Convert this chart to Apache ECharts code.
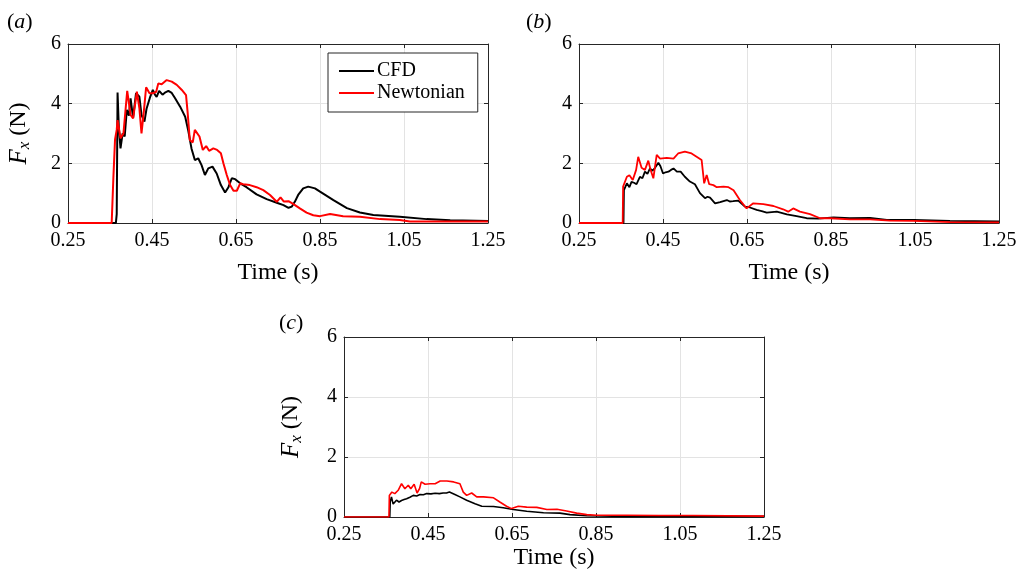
<!DOCTYPE html>
<html>
<head>
<meta charset="utf-8">
<script src="https://cdn.jsdelivr.net/npm/echarts@6/dist/echarts.min.js"></script>
<style>html,body{margin:0;padding:0;background:#fff;}#chart{width:1027px;height:573px;}</style>
</head>
<body>
<div id="chart"></div>
<script>
// ---- data (time in s, Fx in N) ----
const xTicks = [0.25, 0.45, 0.65, 0.85, 1.05, 1.25];
const yTicks = [0, 2, 4, 6];
const seriesNames = ['CFD', 'Newtonian'];
const panelLetters = ['a', 'b', 'c'];

const cfdA = [[0.25,0],[0.364,0],[0.366,0.3],[0.368,4.37],[0.371,3.2],[0.375,2.5],[0.38,3.0],[0.385,2.9],[0.390,3.79],[0.395,3.6],[0.399,4.18],[0.405,3.52],[0.412,4.35],[0.42,4.23],[0.425,3.62],[0.432,3.40],[0.437,3.83],[0.445,4.2],[0.452,4.46],[0.457,4.3],[0.461,4.23],[0.467,4.43],[0.475,4.3],[0.482,4.38],[0.489,4.43],[0.497,4.36],[0.505,4.18],[0.517,3.9],[0.529,3.56],[0.536,3.12],[0.544,2.5],[0.552,2.11],[0.56,2.17],[0.568,1.94],[0.576,1.61],[0.584,1.83],[0.594,1.89],[0.604,1.66],[0.614,1.27],[0.624,1.02],[0.632,1.2],[0.64,1.5],[0.648,1.47],[0.66,1.33],[0.675,1.2],[0.699,0.96],[0.723,0.8],[0.747,0.68],[0.763,0.6],[0.775,0.51],[0.783,0.55],[0.79,0.71],[0.798,0.94],[0.81,1.16],[0.822,1.22],[0.838,1.16],[0.85,1.05],[0.882,0.77],[0.914,0.5],[0.945,0.35],[0.977,0.27],[1.04,0.21],[1.104,0.13],[1.16,0.09],[1.25,0.07]];
const newtA = [[0.25,0],[0.354,0],[0.358,1.5],[0.362,2.8],[0.366,3.12],[0.368,3.45],[0.375,2.84],[0.382,3.0],[0.391,4.43],[0.399,3.62],[0.405,3.51],[0.414,4.4],[0.42,3.84],[0.425,3.0],[0.431,3.8],[0.436,4.55],[0.444,4.35],[0.453,4.35],[0.46,4.4],[0.465,4.68],[0.473,4.65],[0.485,4.79],[0.497,4.74],[0.509,4.63],[0.521,4.46],[0.531,4.29],[0.535,3.68],[0.54,2.78],[0.547,2.7],[0.552,3.12],[0.556,3.17],[0.563,2.9],[0.571,2.45],[0.579,2.58],[0.586,2.42],[0.596,2.5],[0.605,2.45],[0.614,2.34],[0.62,2.0],[0.628,1.61],[0.636,1.27],[0.644,1.08],[0.652,1.08],[0.66,1.33],[0.667,1.3],[0.683,1.27],[0.699,1.2],[0.715,1.1],[0.731,0.94],[0.747,0.71],[0.756,0.86],[0.764,0.72],[0.775,0.73],[0.786,0.64],[0.802,0.49],[0.818,0.35],[0.834,0.26],[0.85,0.23],[0.874,0.3],[0.905,0.23],[0.945,0.21],[0.993,0.13],[1.04,0.1],[1.064,0.05],[1.136,0.05],[1.25,0.05]];

const cfdB = [[0.25,0],[0.356,0],[0.357,1.1],[0.364,1.33],[0.37,1.2],[0.375,1.38],[0.381,1.35],[0.387,1.3],[0.395,1.55],[0.401,1.5],[0.407,1.72],[0.413,1.65],[0.419,1.83],[0.425,1.75],[0.431,1.85],[0.439,2.02],[0.444,1.9],[0.45,1.66],[0.456,1.7],[0.463,1.72],[0.469,1.78],[0.475,1.83],[0.483,1.72],[0.492,1.72],[0.502,1.55],[0.514,1.39],[0.526,1.3],[0.538,1.0],[0.55,0.83],[0.556,0.88],[0.562,0.85],[0.574,0.66],[0.586,0.7],[0.602,0.77],[0.609,0.72],[0.617,0.73],[0.629,0.75],[0.645,0.55],[0.657,0.52],[0.673,0.44],[0.685,0.4],[0.697,0.35],[0.721,0.38],[0.745,0.29],[0.768,0.23],[0.792,0.16],[0.82,0.15],[0.856,0.19],[0.895,0.16],[0.943,0.17],[0.983,0.1],[1.046,0.1],[1.133,0.07],[1.25,0.05]];
const newtB = [[0.25,0],[0.354,0],[0.355,1.22],[0.364,1.55],[0.37,1.6],[0.378,1.44],[0.386,1.78],[0.391,2.22],[0.399,1.85],[0.407,1.78],[0.415,2.09],[0.42,1.8],[0.427,1.5],[0.435,2.28],[0.443,2.16],[0.459,2.18],[0.475,2.16],[0.486,2.33],[0.502,2.39],[0.518,2.33],[0.53,2.22],[0.542,2.11],[0.548,1.33],[0.554,1.61],[0.56,1.3],[0.57,1.27],[0.578,1.2],[0.594,1.22],[0.606,1.2],[0.618,1.1],[0.633,0.77],[0.649,0.49],[0.665,0.66],[0.689,0.63],[0.713,0.57],[0.736,0.46],[0.748,0.38],[0.76,0.49],[0.776,0.38],[0.8,0.3],[0.824,0.16],[0.848,0.16],[0.895,0.12],[0.943,0.12],[0.99,0.08],[1.046,0.07],[1.133,0.03],[1.25,0.02]];

const cfdC = [[0.25,0],[0.359,0],[0.36,0.5],[0.363,0.67],[0.367,0.43],[0.375,0.56],[0.381,0.5],[0.387,0.55],[0.393,0.58],[0.399,0.61],[0.407,0.66],[0.415,0.72],[0.423,0.7],[0.431,0.75],[0.439,0.74],[0.447,0.78],[0.457,0.77],[0.467,0.79],[0.477,0.78],[0.486,0.8],[0.494,0.8],[0.501,0.83],[0.514,0.75],[0.526,0.67],[0.542,0.56],[0.562,0.44],[0.578,0.36],[0.606,0.35],[0.629,0.31],[0.653,0.25],[0.685,0.19],[0.725,0.14],[0.764,0.13],[0.788,0.08],[0.828,0.04],[0.92,0.02],[1.25,0.02]];
const newtC = [[0.25,0],[0.357,0],[0.358,0.72],[0.364,0.83],[0.371,0.78],[0.379,0.89],[0.387,1.11],[0.395,0.94],[0.403,1.06],[0.409,0.94],[0.417,1.09],[0.424,0.8],[0.43,0.95],[0.434,1.17],[0.443,1.09],[0.455,1.11],[0.467,1.11],[0.479,1.2],[0.495,1.2],[0.511,1.17],[0.526,1.11],[0.534,0.83],[0.542,0.72],[0.554,0.8],[0.566,0.67],[0.582,0.67],[0.606,0.64],[0.621,0.5],[0.637,0.36],[0.649,0.28],[0.665,0.36],[0.685,0.33],[0.709,0.32],[0.733,0.25],[0.757,0.26],[0.78,0.2],[0.804,0.13],[0.828,0.08],[0.852,0.06],[0.923,0.06],[1.0,0.05],[1.08,0.05],[1.25,0.03]];

// ---- layout ----
const FONT = "'Liberation Serif', 'DejaVu Serif', serif";
const AX = '#262626';
const GRIDC = '#e3e3e3';
const panels = [
  {grid:{left:68, top:44, width:420, height:179}, cfd:cfdA, newt:newtA, yName:true, yNameGap:35, xNameGap:38, lw:2},
  {grid:{left:579, top:44, width:420, height:179}, cfd:cfdB, newt:newtB, yName:false, yNameGap:35, xNameGap:38, lw:1.8},
  {grid:{left:344, top:337, width:420, height:180}, cfd:cfdC, newt:newtC, yName:true, yNameGap:39, xNameGap:29, lw:1.6}
];
const letterPos = [[7, 11], [526, 11], [279, 312]];

const grids = [], xAxes = [], yAxes = [], series = [], titles = [];
panels.forEach((p, i) => {
  grids.push(p.grid);
  const xMin = xTicks[0], xMax = xTicks[xTicks.length - 1];
  xAxes.push({
    type:'value', gridIndex:i, position:'bottom', min:xMin, max:xMax,
    axisLine:{show:true, onZero:false, lineStyle:{color:AX, width:1}},
    axisTick:{show:true, inside:true, length:4, customValues:xTicks, lineStyle:{color:AX}},
    axisLabel:{show:true, customValues:xTicks, margin:8, color:'#000', fontFamily:FONT, fontSize:20,
      formatter:v => Number(v).toFixed(2)},
    splitLine:{show:true, lineStyle:{color:GRIDC, width:1}},
    name:'Time (s)', nameLocation:'middle', nameGap:p.xNameGap,
    nameTextStyle:{color:'#000', fontFamily:FONT, fontSize:24}
  });
  xAxes.push({
    type:'value', gridIndex:i, position:'top', min:xMin, max:xMax,
    axisLine:{show:true, onZero:false, lineStyle:{color:AX, width:1}},
    axisTick:{show:true, inside:true, length:4, customValues:xTicks, lineStyle:{color:AX}},
    axisLabel:{show:false}, splitLine:{show:false}
  });
  const yMin = yTicks[0], yMax = yTicks[yTicks.length - 1], yInt = yTicks[1] - yTicks[0];
  const yLeft = {
    type:'value', gridIndex:i, position:'left', min:yMin, max:yMax, interval:yInt,
    axisLine:{show:true, onZero:false, lineStyle:{color:AX, width:1}},
    axisTick:{show:true, inside:true, length:4, lineStyle:{color:AX}},
    axisLabel:{show:true, margin:7, color:'#000', fontFamily:FONT, fontSize:20},
    splitLine:{show:true, lineStyle:{color:GRIDC, width:1}}
  };
  if (p.yName) {
    Object.assign(yLeft, {
      name:'{f|F}{s|x}{n| (N)}', nameLocation:'middle', nameGap:p.yNameGap, nameRotate:90,
      nameTextStyle:{color:'#000', fontFamily:FONT, fontSize:24, rich:{
        f:{fontFamily:FONT, fontSize:25, fontStyle:'italic', color:'#000', lineHeight:28, verticalAlign:'middle'},
        s:{fontFamily:FONT, fontSize:17, fontStyle:'italic', color:'#000', lineHeight:14, verticalAlign:'bottom'},
        n:{fontFamily:FONT, fontSize:24, color:'#000', lineHeight:28, verticalAlign:'middle'}
      }}
    });
  }
  yAxes.push(yLeft);
  yAxes.push({
    type:'value', gridIndex:i, position:'right', min:yMin, max:yMax, interval:yInt,
    axisLine:{show:true, onZero:false, lineStyle:{color:AX, width:1}},
    axisTick:{show:true, inside:true, length:4, lineStyle:{color:AX}},
    axisLabel:{show:false}, splitLine:{show:false}
  });
  series.push({
    type:'line', name:seriesNames[0], xAxisIndex:2*i, yAxisIndex:2*i, data:p.cfd,
    symbol:'none', smooth:false, lineStyle:{color:'#000000', width:p.lw}, itemStyle:{color:'#000000'},
    animation:false, z:3
  });
  series.push({
    type:'line', name:seriesNames[1], xAxisIndex:2*i, yAxisIndex:2*i, data:p.newt,
    symbol:'none', smooth:false, lineStyle:{color:'#ff0000', width:p.lw}, itemStyle:{color:'#ff0000'},
    animation:false, z:4
  });
  titles.push({
    text:'{p|(}{l|' + panelLetters[i] + '}{p|)}', left:letterPos[i][0], top:letterPos[i][1], padding:0,
    textStyle:{fontWeight:'normal', rich:{
      p:{fontFamily:FONT, fontSize:22, fontWeight:'normal', color:'#000'},
      l:{fontFamily:FONT, fontSize:22, fontWeight:'normal', fontStyle:'italic', color:'#000'}
    }}
  });
});

const chart = echarts.init(document.getElementById('chart'), null, {renderer:'canvas'});
chart.setOption({
  backgroundColor:'#ffffff',
  animation:false,
  title:titles,
  grid:grids,
  xAxis:xAxes,
  yAxis:yAxes,
  legend:{
    data:seriesNames, left:328, top:53, orient:'vertical',
    backgroundColor:'#ffffff', borderColor:AX, borderWidth:1, borderRadius:0,
    padding:[8, 13, 9, 11], itemGap:2, itemWidth:35, itemHeight:2, icon:'rect',
    textStyle:{fontFamily:FONT, fontSize:20, color:'#000', lineHeight:18, padding:[0,0,0,-2]},
    selectedMode:false
  },
  series:series
});
</script>
</body>
</html>
